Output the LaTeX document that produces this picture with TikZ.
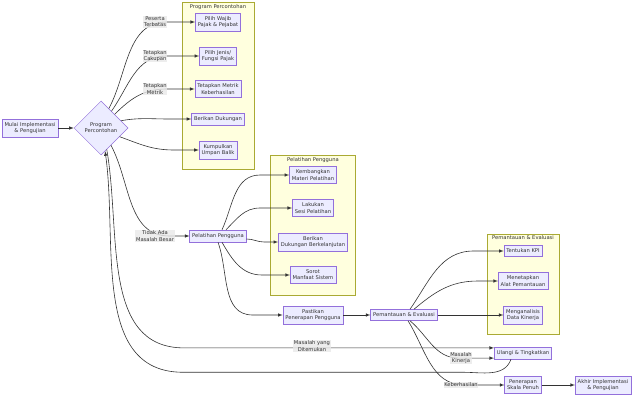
\documentclass[tikz,border=0pt]{standalone}
\usepackage{fontspec}
\setmainfont{DejaVu Sans}
\usetikzlibrary{shapes.geometric}
\definecolor{nodefill}{HTML}{ECECFF}
\definecolor{nodeline}{HTML}{9370DB}
\definecolor{clusterfill}{HTML}{FFFFDE}
\definecolor{clusterline}{HTML}{AAAA33}
\definecolor{inkgray}{HTML}{333333}
\definecolor{labelbg}{HTML}{E8E8E8}
\begin{document}
\begin{tikzpicture}[x=1pt,y=1pt,
    font=\fontsize{5.2}{6.2}\selectfont, text=inkgray,
    box/.style={draw=nodeline, fill=nodefill, line width=0.5pt, align=center, inner xsep=2.5pt, inner ysep=3.5pt},
    choice/.style={diamond, draw=nodeline, fill=nodefill, line width=0.5pt, align=center, minimum width=54pt, minimum height=54pt, inner sep=0pt},
    group/.style={draw=clusterline, fill=clusterfill, line width=0.5pt},
    flow/.style={draw=inkgray, line width=0.6pt, -latex},
    edgetext/.style={fill=labelbg, fill opacity=0.8, text opacity=1, align=center, inner sep=0.6pt}]
    \useasboundingbox (0,0) rectangle (640,-401);
    \draw[group] (182,-2) rectangle (254,-169);% Program Percontohan
    \draw[group] (270,-155) rectangle (355,-295);% Pelatihan Pengguna
    \draw[group] (487,-234) rectangle (559,-334);% Pemantauan & Evaluasi
    \node (TitleProgram) at (218,-7) {Program Percontohan};
    \node (TitlePelatihan) at (313,-160) {Pelatihan Pengguna};
    \node (TitlePantau) at (523,-238) {Pemantauan \& Evaluasi};
    \node[box] (MulaiUji) at (30,-128) {Mulai Implementasi\\\& Pengujian};
    \node[choice] (Percontohan) at (101,-128) {Program\\Percontohan};
    \node[box] (PilihWP) at (218,-22) {Pilih Wajib\\Pajak \& Pejabat};
    \node[box] (PilihJenis) at (218,-56) {Pilih Jenis/\\Fungsi Pajak};
    \node[box] (TetapMetrik) at (218,-89) {Tetapkan Metrik\\Keberhasilan};
    \node[box] (BeriDukungan) at (218,-119) {Berikan Dukungan};
    \node[box] (Kumpul) at (218,-150) {Kumpulkan\\Umpan Balik};
    \node[box] (Pelatihan) at (218,-236) {Pelatihan Pengguna};
    \node[box] (Kembang) at (313,-175) {Kembangkan\\Materi Pelatihan};
    \node[box] (Sesi) at (313,-208) {Lakukan\\Sesi Pelatihan};
    \node[box] (Lanjut) at (313,-242) {Berikan\\Dukungan Berkelanjutan};
    \node[box] (Sorot) at (313,-275) {Sorot\\Manfaat Sistem};
    \node[box] (Pastikan) at (313,-315) {Pastikan\\Penerapan Pengguna};
    \node[box] (Pantau) at (404,-315) {Pemantauan \& Evaluasi};
    \node[box] (KPI) at (523,-251) {Tentukan KPI};
    \node[box] (Alat) at (523,-281) {Menetapkan\\Alat Pemantauan};
    \node[box] (Analisis) at (523,-315) {Menganalisis\\Data Kinerja};
    \node[box] (Ulangi) at (523,-353) {Ulangi \& Tingkatkan};
    \node[box] (SkalaPenuh) at (523,-385) {Penerapan\\Skala Penuh};
    \node[box] (Akhir) at (603,-385) {Akhir Implementasi\\\& Pengujian};
    % pilot
    \draw[flow] (MulaiUji) -- (Percontohan);
    \draw[flow] (Percontohan.68) to[out=62,in=180] ([xshift=-28pt]PilihWP.west) -- (PilihWP);
    \draw[flow] (Percontohan.58) to[out=55,in=180] ([xshift=-33pt]PilihJenis.west) -- (PilihJenis);
    \draw[flow] (Percontohan.45) to[out=45,in=180] ([xshift=-28pt]TetapMetrik.west) -- (TetapMetrik);
    \draw[flow] (Percontohan.20) to[out=10,in=180] ([xshift=-22pt]BeriDukungan.west) -- (BeriDukungan);
    \draw[flow] (Percontohan.-25) to[out=-20,in=180] ([xshift=-25pt]Kumpul.west) -- (Kumpul);
    \draw[flow] (Percontohan.-60) to[out=-62,in=180] ([xshift=-20pt]Pelatihan.west) -- (Pelatihan);
    % training
    \draw[flow] ([xshift=4pt]Pelatihan.north) to[out=65,in=180] ([xshift=-29pt]Kembang.west) -- (Kembang);
    \draw[flow] ([xshift=8pt]Pelatihan.north) to[out=45,in=180] ([xshift=-32pt]Sesi.west) -- (Sesi);
    \draw[flow] ([yshift=-3pt]Pelatihan.east) to[out=0,in=180] ([xshift=-14pt]Lanjut.west) -- (Lanjut);
    \draw[flow] ([xshift=4pt]Pelatihan.south) to[out=-60,in=180] ([xshift=-28pt]Sorot.west) -- (Sorot);
    \draw[flow] (Pelatihan.south) to[out=-70,in=180] ([xshift=-30pt]Pastikan.west) -- (Pastikan);
    \draw[flow] (Pastikan) -- (Pantau);
    % monitoring
    \draw[flow] ([xshift=6pt]Pantau.north) to[out=55,in=180] ([xshift=-30pt]KPI.west) -- (KPI);
    \draw[flow] ([xshift=10pt]Pantau.north) to[out=40,in=180] ([xshift=-20pt]Alat.west) -- (Alat);
    \draw[flow] (Pantau) -- (Analisis);
    \draw[flow] ([xshift=6pt]Pantau.south) to[out=-40,in=180] ([xshift=-35pt]Ulangi.190) -- (Ulangi.190);
    \draw[flow] ([xshift=4pt]Pantau.south) to[out=-58,in=180] ([xshift=-40pt]SkalaPenuh.west) -- (SkalaPenuh);
    \draw[flow] (SkalaPenuh) -- (Akhir);
    % loops back
    \draw[flow] (Percontohan.-75) to[out=-80,in=180] ([xshift=-310pt]Ulangi.170) -- (Ulangi.170);
    \draw[flow] ([xshift=-12pt]Ulangi.south) to[out=-110,in=0] ([xshift=-60pt,yshift=-13pt]Ulangi.south) -- ([xshift=-340pt,yshift=-13pt]Ulangi.south) to[out=180,in=-82] (Percontohan.-80);
    % edge labels
    \node[edgetext] (LblPeserta) at (155,-22) {Peserta\\Terbatas};
    \node[edgetext] (LblCakupan) at (155,-56) {Tetapkan\\Cakupan};
    \node[edgetext] (LblMetrik) at (155,-89) {Tetapkan\\Metrik};
    \node[edgetext] (LblTidak) at (155,-236) {Tidak Ada\\Masalah Besar};
    \node[edgetext] (LblDitemukan) at (312,-346) {Masalah yang\\Ditemukan};
    \node[edgetext] (LblKinerja) at (461,-358) {Masalah\\Kinerja};
    \node[edgetext] (LblHasil) at (461,-385) {Keberhasilan};
\end{tikzpicture}
\end{document}
